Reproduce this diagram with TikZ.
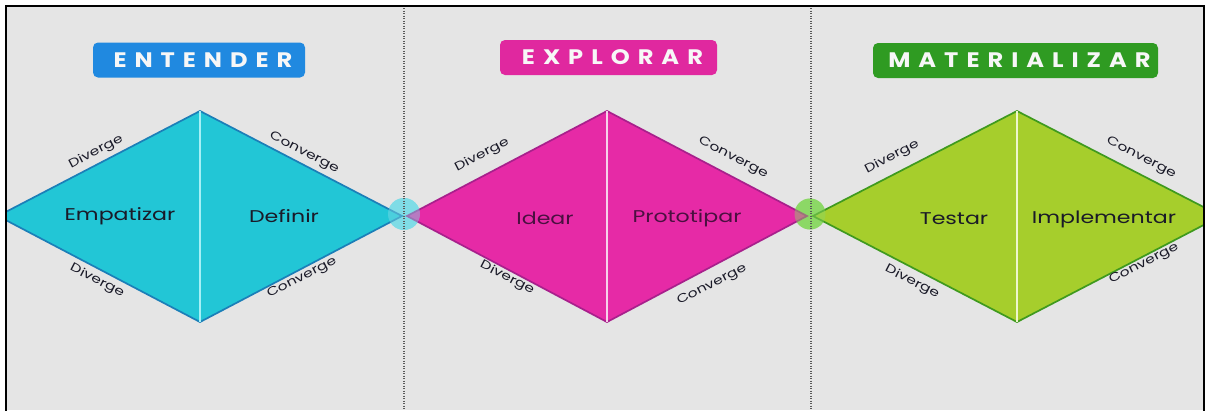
\documentclass[tikz,border=0pt]{standalone}
\usepackage{fontspec}
\setmainfont{Poppins}
\newfontfamily\labfont[FakeStretch=1.3]{Poppins}
\newfontfamily\headfont[LetterSpace=38,FakeStretch=1.15]{Poppins}
\definecolor{bg}{HTML}{E5E5E5}
\definecolor{cyanF}{HTML}{22C6D6}
\definecolor{cyanE}{HTML}{1B7FB8}
\definecolor{cyanS}{HTML}{A6F0F6}
\definecolor{cyanC}{HTML}{7FDCE6}
\definecolor{pinkF}{HTML}{E62AA6}
\definecolor{pinkE}{HTML}{A8208C}
\definecolor{pinkS}{HTML}{F6D0EA}
\definecolor{limeF}{HTML}{A6CE2C}
\definecolor{limeE}{HTML}{3F9A1E}
\definecolor{limeS}{HTML}{EEF6CC}
\definecolor{limeC}{HTML}{8CD866}
\definecolor{hdBlue}{HTML}{2089E0}
\definecolor{hdPink}{HTML}{E0289F}
\definecolor{hdGreen}{HTML}{2F9B22}
\definecolor{txtDark}{HTML}{1A1A28}
\definecolor{txtPink}{HTML}{4A1040}
\begin{document}
\begin{tikzpicture}[x=1pt,y=-1pt,
  hdr/.style={rounded corners=5pt, minimum height=35pt, inner sep=0pt,
    text=white!94!gray, font=\headfont\bfseries\fontsize{21}{22}\selectfont},
  phase/.style={inner sep=0pt, font=\labfont\fontsize{17}{20}\selectfont},
  edgelab/.style={inner sep=0pt, text=txtDark, font=\labfont\fontsize{12}{14}\selectfont},
  sepline/.style={gray!70!black, line width=1.1pt, dash pattern=on 1.1pt off 1.4pt},
  rim/.style={line width=1.7pt, line join=miter},
  split/.style={line width=1.8pt}
]
\useasboundingbox (0,0) rectangle (1208,410);
\fill[bg] (6,6) rectangle (1204,410);

% diamond corner coordinates
\coordinate (L1) at (-2,216);  \coordinate (T1) at (200,111);
\coordinate (R1) at (402,216); \coordinate (B1) at (200,322);
\coordinate (L2) at (407,216); \coordinate (T2) at (607,111);
\coordinate (R2) at (807,216); \coordinate (B2) at (607,322);
\coordinate (L3) at (813,216); \coordinate (T3) at (1017,111);
\coordinate (R3) at (1221,216);\coordinate (B3) at (1017,322);

% junction circles (under the diamonds' tips)
\fill[cyanC] (404,214) circle (16);
\fill[limeC] (810,214) circle (15.5);

\begin{scope}
\clip (6,6) rectangle (1204,410);
\fill[cyanF] (L1) -- (T1) -- (R1) -- (B1) -- cycle;
\draw[cyanE, rim] (L1) -- (T1) -- (R1) -- (B1) -- cycle;
\draw[cyanS, split] (T1) -- (B1);
\fill[pinkF] (L2) -- (T2) -- (R2) -- (B2) -- cycle;
\draw[pinkE, rim] (L2) -- (T2) -- (R2) -- (B2) -- cycle;
\draw[pinkS, split] (T2) -- (B2);
\fill[limeF] (L3) -- (T3) -- (R3) -- (B3) -- cycle;
\draw[limeE, rim] (L3) -- (T3) -- (R3) -- (B3) -- cycle;
\draw[limeS, split] (T3) -- (B3);
\end{scope}

% junction circles tint over the tips
\fill[cyanC, opacity=0.45] (404,214) circle (16);
\fill[limeC, opacity=0.45] (810,214) circle (15.5);

% separators
\draw[sepline] (404,8) -- (404,410);
\draw[sepline] (811,8) -- (811,410);

% headers
\node[hdr, fill=hdBlue, minimum width=212pt] (h1) at (199,60) {ENTENDER\kern-0.38em};
\node[hdr, fill=hdPink, minimum width=217pt] (h2) at (608.5,57.5) {EXPLORAR\kern-0.38em};
\node[hdr, fill=hdGreen, minimum width=285pt] (h3) at (1015.5,60.5) {MATERIALIZAR\kern-0.38em};

% phase labels
\node[phase, text=txtDark] (p1) at (120,216) {Empatizar};
\node[phase, text=txtDark] (p2) at (284,216) {Definir};
\node[phase, text=txtPink] (p3) at (545,218) {Idear};
\node[phase, text=txtPink] (p4) at (687,218) {Prototipar};
\node[phase, text=txtDark] (p5) at (954,219) {Testar};
\node[phase, text=txtDark] (p6) at (1104,219) {Implementar};

% edge labels
\node[edgelab, rotate=27.5]  (d1a) at (96,152)  {Diverge};
\node[edgelab, rotate=-27.5] (c1a) at (304,153) {Converge};
\node[edgelab, rotate=-27.5] (d1b) at (97,281)  {Diverge};
\node[edgelab, rotate=27.5]  (c1b) at (302,278) {Converge};

\node[edgelab, rotate=27.5]  (d2a) at (482,155) {Diverge};
\node[edgelab, rotate=-27.5] (c2a) at (733,158) {Converge};
\node[edgelab, rotate=-27.5] (d2b) at (507,278) {Diverge};
\node[edgelab, rotate=27.5]  (c2b) at (712,285) {Converge};

\node[edgelab, rotate=27.5]  (d3a) at (892,157)  {Diverge};
\node[edgelab, rotate=-27.5] (c3a) at (1141,158) {Converge};
\node[edgelab, rotate=-27.5] (d3b) at (912,282)  {Diverge};
\node[edgelab, rotate=27.5]  (c3b) at (1144,264) {Converge};

% frame
\draw[line width=2.5pt] (6,420) -- (6,6) -- (1204,6) -- (1204,420);
\end{tikzpicture}
\end{document}
